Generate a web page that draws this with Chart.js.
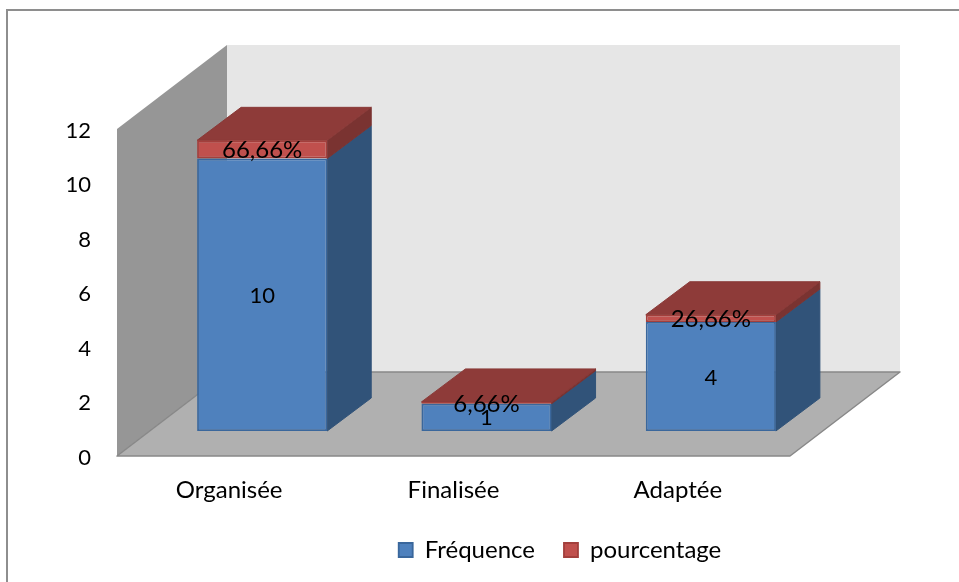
<!DOCTYPE html>
<html lang="fr">
<head>
<meta charset="utf-8">
<title>Fréquence et pourcentage</title>
<style>
  html, body { margin: 0; padding: 0; background: #fff; }
  canvas { display: block; }
</style>
<script src="https://cdn.jsdelivr.net/npm/chart.js@4"></script>
</head>
<body>
<canvas id="chart" width="959" height="582"></canvas>
<script>
const categories = ['Organisée', 'Finalisée', 'Adaptée'];
const frequence = [10, 1, 4];
const pourcentage = [0.6666, 0.0666, 0.2666];
const yTicks = [0, 2, 4, 6, 8, 10, 12];

const FONT = 'Lato, sans-serif';
const TEXT_SIZE = 24;
const DIGIT_SIZE = 22;

// Oblique projection: full floor depth, where the bars stand on it, and their own depth.
const ROOM_DX = 110, ROOM_DY = -84;
const BAR_SHIFT_X = 33, BAR_SHIFT_Y = -25;
const BAR_DX = 44, BAR_DY = -33;

const formatPercent = v => (v * 100).toFixed(2).replace('.', ',') + '%';

function polygon(ctx, pts, fill, stroke, lw) {
  ctx.beginPath();
  pts.forEach((p, i) => i ? ctx.lineTo(p[0], p[1]) : ctx.moveTo(p[0], p[1]));
  ctx.closePath();
  ctx.fillStyle = fill;
  ctx.fill();
  if (stroke) {
    ctx.strokeStyle = stroke;
    ctx.lineWidth = lw || 1;
    ctx.lineJoin = 'round';
    ctx.stroke();
  }
}

// Only the top and left edges of the surrounding frame fall on the canvas.
const frame = {
  id: 'frame',
  beforeDraw(chart) {
    const ctx = chart.ctx;
    ctx.save();
    ctx.strokeStyle = '#8e8e8e';
    ctx.lineWidth = 2;
    ctx.beginPath();
    ctx.moveTo(7, chart.height);
    ctx.lineTo(7, 10);
    ctx.lineTo(chart.width, 10);
    ctx.stroke();
    ctx.restore();
  }
};

const room = {
  id: 'room',
  beforeDatasetsDraw(chart) {
    const ctx = chart.ctx;
    const { left, right } = chart.chartArea;
    const y = chart.scales.y;
    const top = y.getPixelForValue(12), bottom = y.getPixelForValue(0);
    const dx = ROOM_DX, dy = ROOM_DY;
    ctx.save();
    polygon(ctx, [[left + dx, top + dy], [right + dx, top + dy], [right + dx, bottom + dy], [left + dx, bottom + dy]], '#e6e6e6');
    polygon(ctx, [[left, top], [left + dx, top + dy], [left + dx, bottom + dy], [left, bottom]], '#969696');
    polygon(ctx, [[left, bottom], [right, bottom], [right + dx, bottom + dy], [left + dx, bottom + dy]], '#b0b0b0', '#888888', 1.5);
    ctx.restore();
  }
};

const SIDE_COLORS = ['#315379', '#7a3331'];
const bars3d = {
  id: 'bars3d',
  beforeDatasetsDraw(chart) {
    const ctx = chart.ctx;
    ctx.save();
    ctx.translate(BAR_SHIFT_X, BAR_SHIFT_Y);
    chart.data.datasets.forEach((ds, d) => {
      chart.getDatasetMeta(d).data.forEach(bar => {
        const r = bar.x + bar.width / 2;
        polygon(ctx, [[r, bar.y], [r + BAR_DX, bar.y + BAR_DY], [r + BAR_DX, bar.base + BAR_DY], [r, bar.base]],
          SIDE_COLORS[d], SIDE_COLORS[d], 1);
      });
    });
    // Only the upper segment of each stack shows a lid.
    const lastIndex = chart.data.datasets.length - 1;
    chart.getDatasetMeta(lastIndex).data.forEach(bar => {
      const l = bar.x - bar.width / 2, r = bar.x + bar.width / 2;
      polygon(ctx, [[l, bar.y], [r, bar.y], [r + BAR_DX, bar.y + BAR_DY], [l + BAR_DX, bar.y + BAR_DY]], '#8e3b39', '#8a3a38', 1);
    });
    // Fronts are painted by the library inside this translated state.
  },
  afterDatasetsDraw(chart) {
    const ctx = chart.ctx;
    ctx.restore();
    ctx.save();
    ctx.fillStyle = '#000';
    ctx.textAlign = 'center';
    ctx.textBaseline = 'middle';
    chart.data.datasets.forEach((ds, d) => {
      ctx.font = (d === 0 ? DIGIT_SIZE : TEXT_SIZE) + 'px ' + FONT;
      chart.getDatasetMeta(d).data.forEach((bar, i) => {
        const text = d === 0 ? String(ds.data[i]) : formatPercent(ds.data[i]);
        ctx.fillText(text, bar.x + BAR_SHIFT_X, (bar.y + bar.base) / 2 + BAR_SHIFT_Y + 1);
      });
    });
    ctx.restore();
  }
};

// The legend sits right of the plot's centre, on its own baseline.
const legendPlacement = {
  id: 'legendPlacement',
  afterLayout(chart) {
    const lg = chart.legend;
    const w = lg.right - lg.left;
    lg.left = 560 - w / 2;
    lg.right = lg.left + w;
    const h = lg.bottom - lg.top;
    lg.top = 509;
    lg.bottom = lg.top + h;
  }
};

// Tick digits sit a little lower than the font's own middle line.
function nudgeLabels(scale, dy) {
  if (scale._nudged) return;
  scale._nudged = true;
  const draw = scale.drawLabels;
  scale.drawLabels = function (area) {
    this.ctx.save();
    this.ctx.translate(0, dy);
    draw.call(this, area);
    this.ctx.restore();
  };
}

new Chart(document.getElementById('chart'), {
  type: 'bar',
  data: {
    labels: categories,
    datasets: [
      { label: 'Fréquence', data: frequence, backgroundColor: '#4f81bd', borderColor: '#3a679c', borderWidth: 1.8, borderSkipped: false },
      { label: 'pourcentage', data: pourcentage, backgroundColor: '#c0504d', borderColor: '#a33f3c', borderWidth: 1.8, borderSkipped: false }
    ]
  },
  plugins: [frame, room, bars3d, legendPlacement],
  options: {
    responsive: false,
    animation: false,
    events: [],
    layout: { padding: { top: 129, right: 169, left: 0, bottom: 0 } },
    datasets: { bar: { categoryPercentage: 1, barPercentage: 0.58 } },
    scales: {
      x: {
        stacked: true,
        grid: { display: false, drawTicks: false },
        border: { display: false },
        ticks: { color: '#000', font: { family: FONT, size: TEXT_SIZE }, padding: 20, maxRotation: 0 },
        afterFit(s) { s.height = 582 - 456 - (s.chart.legend ? s.chart.legend.height : 0); }
      },
      y: {
        stacked: true,
        min: 0,
        max: 12,
        grid: { display: false, drawTicks: false },
        border: { display: false },
        afterBuildTicks(s) { s.ticks = yTicks.map(v => ({ value: v })); },
        ticks: { color: '#000', font: { family: FONT, size: DIGIT_SIZE }, padding: 26 },
        afterFit(s) { s.width = 117; nudgeLabels(s, 1.5); }
      }
    },
    plugins: {
      tooltip: { enabled: false },
      legend: {
        position: 'bottom',
        labels: { boxWidth: 14, boxHeight: 14, padding: 29, color: '#000', font: { family: FONT, size: TEXT_SIZE } }
      }
    }
  }
});
</script>
</body>
</html>
